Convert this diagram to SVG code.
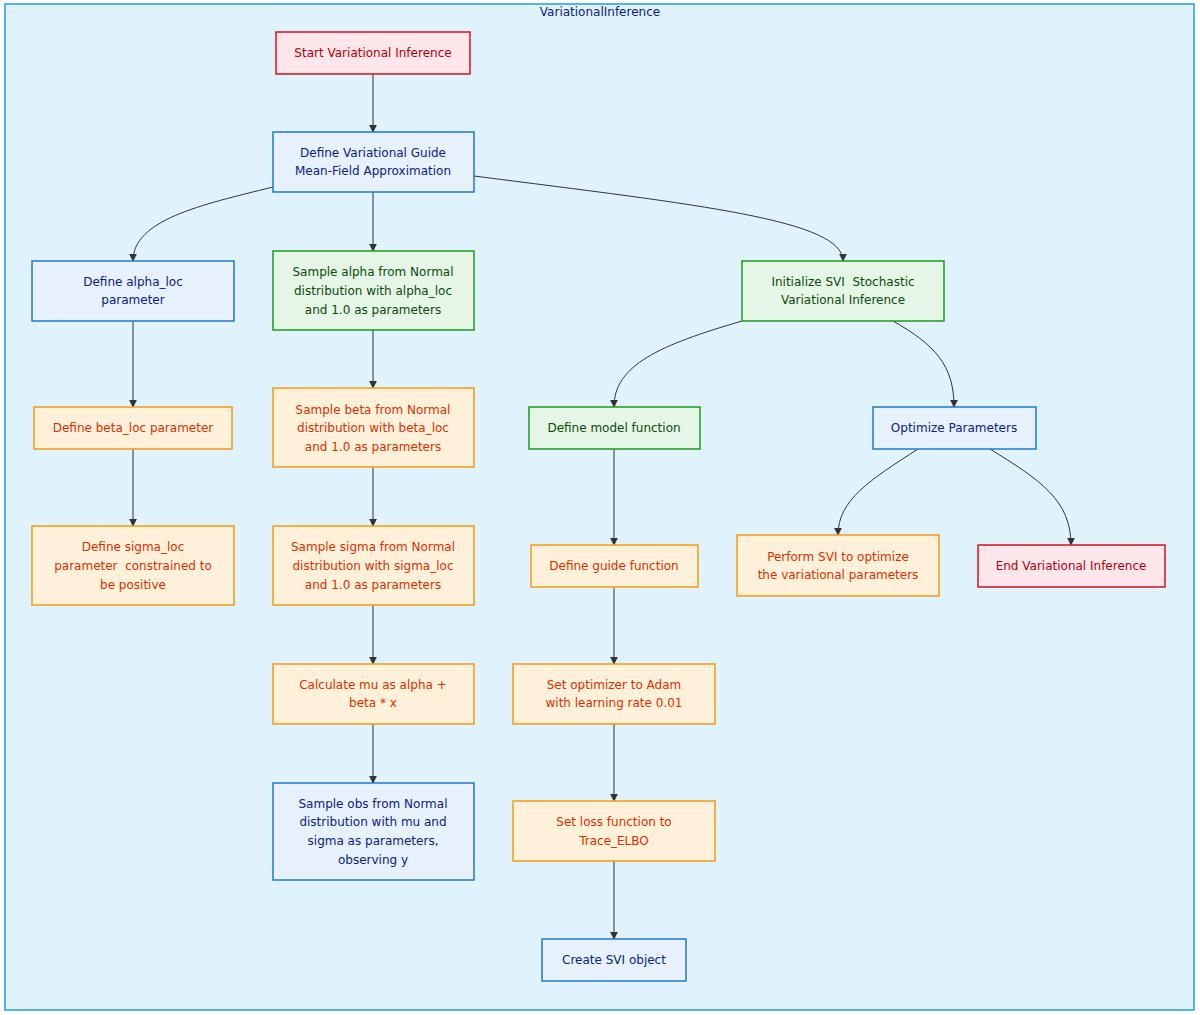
<svg xmlns="http://www.w3.org/2000/svg" width="1200" height="1015" viewBox="0 0 1200 1015">
<defs>
<marker id="ah" viewBox="0 0 10 10" refX="9" refY="5" markerWidth="8" markerHeight="8" orient="auto"><path d="M0,0L10,5L0,10z" fill="#333"/></marker>
<style>
text{font-family:"DejaVu Sans","Liberation Sans",sans-serif;font-size:12px;text-anchor:middle;white-space:pre}
rect{stroke-width:1.5}
.r rect{fill:#ffe6ea;stroke:#d6101e}.r text{fill:#b00010}
.b rect{fill:#e6f1fc;stroke:#1f78d1}.b text{fill:#0b2282}
.g rect{fill:#e6f6e6;stroke:#1c9a1c}.g text{fill:#0a4a0a}
.o rect{fill:#fff0da;stroke:#f39a14}.o text{fill:#d83000}
#edges path{fill:none;stroke:#333;stroke-width:1;marker-end:url(#ah)}
</style>
</defs>
<rect x="5" y="4" width="1189" height="1006" fill="#e0f2fb" stroke="#1ea0e0" stroke-width="1.5"/>
<text x="600" y="16" fill="#0b2282">VariationalInference</text>
<g id="edges">
<path d="M373,74V132"/>
<path d="M273,187C200,205 133,220 133,261"/>
<path d="M373,192V251"/>
<path d="M474,176C700,205 843,220 843,261"/>
<path d="M133,321V407"/><path d="M133,449V526"/>
<path d="M373,330V388"/><path d="M373,467V526"/><path d="M373,605V664"/><path d="M373,724V783"/>
<path d="M742,321C660,345 614,365 614,407"/>
<path d="M893,321C935,345 954,365 954,407"/>
<path d="M614,449V545"/><path d="M614,587V664"/><path d="M614,724V801"/><path d="M614,861V939"/>
<path d="M918,449C870,480 838,500 838,535"/>
<path d="M990,449C1040,480 1071,500 1071,545"/>
</g>
<g id="start" class="r"><rect x="276" y="32" width="194" height="42"/><text x="373" y="57">Start Variational Inference</text></g>
<g id="guide" class="b"><rect x="273" y="132" width="201" height="60"/><text x="373" y="157">Define Variational Guide</text><text x="373" y="175">Mean-Field Approximation</text></g>
<g id="alphaloc" class="b"><rect x="32" y="261" width="202" height="60"/><text x="133" y="286">Define alpha_loc</text><text x="133" y="304">parameter</text></g>
<g id="salpha" class="g"><rect x="273" y="251" width="201" height="79"/><text x="373" y="276">Sample alpha from Normal</text><text x="373" y="295">distribution with alpha_loc</text><text x="373" y="314">and 1.0 as parameters</text></g>
<g id="init" class="g"><rect x="742" y="261" width="202" height="60"/><text x="843" y="286">Initialize SVI  Stochastic</text><text x="843" y="304">Variational Inference</text></g>
<g id="betaloc" class="o"><rect x="34" y="407" width="198" height="42"/><text x="133" y="432">Define beta_loc parameter</text></g>
<g id="sbeta" class="o"><rect x="273" y="388" width="201" height="79"/><text x="373" y="414">Sample beta from Normal</text><text x="373" y="432">distribution with beta_loc</text><text x="373" y="451">and 1.0 as parameters</text></g>
<g id="model" class="g"><rect x="529" y="407" width="171" height="42"/><text x="614" y="432">Define model function</text></g>
<g id="opt" class="b"><rect x="873" y="407" width="163" height="42"/><text x="954" y="432">Optimize Parameters</text></g>
<g id="sigmaloc" class="o"><rect x="32" y="526" width="202" height="79"/><text x="133" y="551">Define sigma_loc</text><text x="133" y="570">parameter  constrained to</text><text x="133" y="589">be positive</text></g>
<g id="ssigma" class="o"><rect x="273" y="526" width="201" height="79"/><text x="373" y="551">Sample sigma from Normal</text><text x="373" y="570">distribution with sigma_loc</text><text x="373" y="589">and 1.0 as parameters</text></g>
<g id="guidefn" class="o"><rect x="531" y="545" width="167" height="42"/><text x="614" y="570">Define guide function</text></g>
<g id="perform" class="o"><rect x="737" y="535" width="202" height="61"/><text x="838" y="561">Perform SVI to optimize</text><text x="838" y="579">the variational parameters</text></g>
<g id="end" class="r"><rect x="978" y="545" width="187" height="42"/><text x="1071" y="570">End Variational Inference</text></g>
<g id="mu" class="o"><rect x="273" y="664" width="201" height="60"/><text x="373" y="689">Calculate mu as alpha +</text><text x="373" y="707">beta * x</text></g>
<g id="adam" class="o"><rect x="513" y="664" width="202" height="60"/><text x="614" y="689">Set optimizer to Adam</text><text x="614" y="707">with learning rate 0.01</text></g>
<g id="obs" class="b"><rect x="273" y="783" width="201" height="97"/><text x="373" y="808">Sample obs from Normal</text><text x="373" y="826">distribution with mu and</text><text x="373" y="845">sigma as parameters,</text><text x="373" y="864">observing y</text></g>
<g id="loss" class="o"><rect x="513" y="801" width="202" height="60"/><text x="614" y="826">Set loss function to</text><text x="614" y="845">Trace_ELBO</text></g>
<g id="create" class="b"><rect x="542" y="939" width="144" height="42"/><text x="614" y="964">Create SVI object</text></g>
</svg>
